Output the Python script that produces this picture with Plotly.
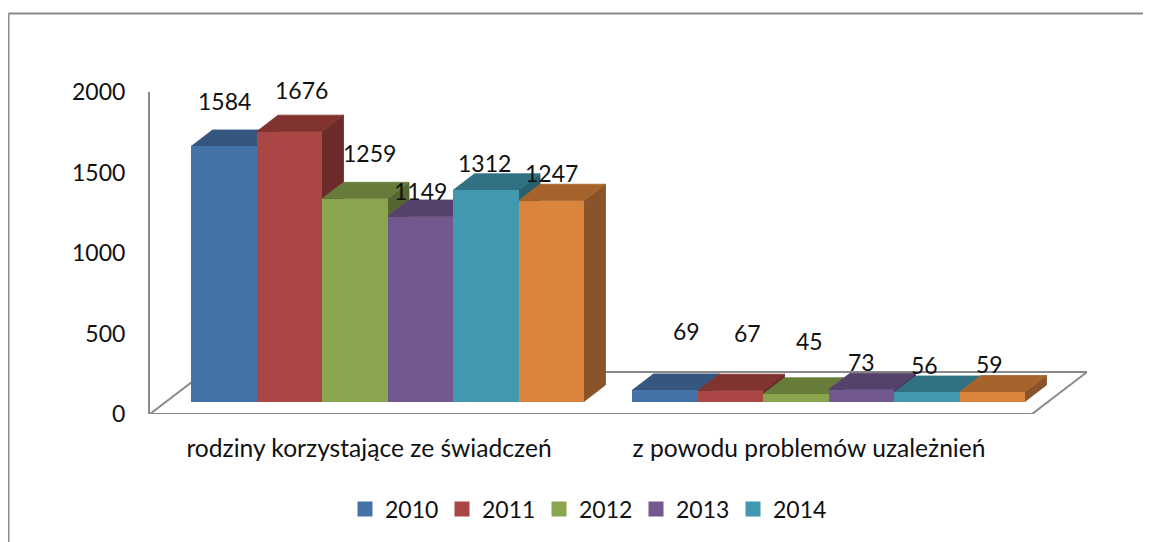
import plotly.graph_objects as go

# --- data ---
categories = ["rodziny korzystające ze świadczeń", "z powodu problemów uzależnień"]
years = ["2010", "2011", "2012", "2013", "2014", "2015"]
v2010 = [1584, 69]
v2011 = [1676, 67]
v2012 = [1259, 45]
v2013 = [1149, 73]
v2014 = [1312, 56]
v2015 = [1247, 59]
series = [v2010, v2011, v2012, v2013, v2014, v2015]
axis_ticks = [0, 500, 1000, 1500, 2000]

# --- style ---
front = ["#4573A7", "#AA4643", "#89A54E", "#71588F", "#4198AF", "#DB843D"]
top = ["#35567F", "#80332F", "#677C3A", "#55416C", "#307283", "#A6632C"]
side = ["#2A4466", "#6A2B2A", "#556633", "#46365A", "#29606E", "#89542A"]
FONT = "Lato"
GRAY = "#8A8A8A"
TXT = "#111111"
SIZE_NUM = 23
SIZE_CAT = 24.6

# --- geometry (page pixels; the page body has an 8px margin) ---
W, H = 1151, 542
OFF = 8
L, R, T, B = 150, 1087, 92, 414
PX_PER_SLOT = 65.5
PX_PER_UNIT = (B - T) / 2000
FIRST = 191
px2x = lambda p: (p - FIRST) / PX_PER_SLOT
dx_units = lambda p: p / PX_PER_SLOT
dy_units = lambda p: p / PX_PER_UNIT
GROUP_STEP = 441 / PX_PER_SLOT
BASE = dy_units(B - 401.5)
DEPTH_X, DEPTH_Y = dx_units(21.5), dy_units(16.5)
xrange = [px2x(L), px2x(R)]
group_start = [0, GROUP_STEP]
tick_x = [px2x(369), px2x(809)]

# label offsets (px) from the centre of each bar's top edge, by series then group
label_shift = [
    [(1, 45), (22, 59)],
    [(12, 42), (17, 58)],
    [(15, 46), (14, 53)],
    [(0, 26), (0, 28)],
    [(-1, 27), (-2, 27)],
    [(0, 28), (-3, 28)],
]

fig = go.Figure()


def faces(i, vals):
    tx, ty, sx, sy = [], [], [], []
    for g, v in enumerate(vals):
        x0 = group_start[g] + i
        x1 = x0 + 1
        y0 = BASE
        y1 = BASE + v
        tx += [x0, x1, x1 + DEPTH_X, x0 + DEPTH_X, x0, None]
        ty += [y1, y1, y1 + DEPTH_Y, y1 + DEPTH_Y, y1, None]
        sx += [x1, x1 + DEPTH_X, x1 + DEPTH_X, x1, x1, None]
        sy += [y0, y0 + DEPTH_Y, y1 + DEPTH_Y, y1, y0, None]
    return tx, ty, sx, sy


# floor outline
fl_dx, fl_dy = dx_units(55), dy_units(42)
fx0, fx1 = xrange[0], px2x(1032)
fig.add_trace(go.Scatter(
    x=[fx0, fx1, fx1 + fl_dx, fx0 + fl_dx, fx0],
    y=[0, 0, fl_dy, fl_dy, 0],
    mode="lines", line=dict(color=GRAY, width=2),
    cliponaxis=False, showlegend=False, hoverinfo="skip",
))

# top and side faces, painted left to right
for i, vals in enumerate(series):
    tx, ty, sx, sy = faces(i, vals)
    for xs, ys, col in ((sx, sy, side[i]), (tx, ty, top[i])):
        fig.add_trace(go.Scatter(
            x=xs, y=ys, mode="lines", fill="toself", fillcolor=col,
            line=dict(width=0.8, color=col), cliponaxis=False,
            showlegend=False, hoverinfo="skip",
        ))

# legend entries (the last series has no entry in the reference)
for i, name in enumerate(years[:5]):
    fig.add_trace(go.Scatter(
        x=[None], y=[None], mode="markers", name=name,
        marker=dict(symbol="square", size=15, color=front[i]),
    ))

# front faces on an overlay subplot so that they sit above all depth faces
for i, vals in enumerate(series):
    fig.add_trace(go.Bar(
        x=[g + i + 0.5 for g in group_start], y=vals, base=BASE, width=1,
        marker=dict(color=front[i], line=dict(width=0)),
        xaxis="x2", yaxis="y2", showlegend=False, name=years[i], cliponaxis=False,
    ))

for i, vals in enumerate(series):
    for g, v in enumerate(vals):
        sx_, sy_ = label_shift[i][g]
        fig.add_annotation(
            x=group_start[g] + i + 0.5, y=BASE + v, text=str(v), showarrow=False,
            xref="x", yref="y", xshift=sx_, yshift=sy_, yanchor="middle",
            font=dict(family=FONT, size=SIZE_NUM, color=TXT),
        )

fig.update_layout(
    width=W - OFF, height=H - OFF, autosize=False,
    margin=dict(l=L - OFF, r=W - R, t=T - OFF, b=H - B, pad=0),
    paper_bgcolor="white", plot_bgcolor="rgba(0,0,0,0)",
    barmode="overlay", bargap=0,
    font=dict(family=FONT, size=SIZE_NUM, color=TXT),
    xaxis=dict(range=xrange, tickmode="array", tickvals=tick_x, ticktext=categories,
               showgrid=False, zeroline=False, showline=False, ticks="",
               ticklabelstandoff=17, tickfont=dict(family=FONT, size=SIZE_CAT, color=TXT)),
    yaxis=dict(range=[0, 2000], tickmode="array", tickvals=axis_ticks,
               showgrid=False, zeroline=False, showline=True, linecolor=GRAY, linewidth=2,
               ticks="", ticklabelstandoff=18, tickfont=dict(family=FONT, size=SIZE_NUM, color=TXT)),
    xaxis2=dict(range=xrange, overlaying="x", visible=False),
    yaxis2=dict(range=[0, 2000], overlaying="y", visible=False),
    legend=dict(orientation="h", x=(345 - L) / (R - L), xanchor="left",
                y=(B - 509) / (B - T), yanchor="middle", bgcolor="rgba(0,0,0,0)",
                font=dict(family=FONT, size=SIZE_NUM, color=TXT), entrywidth=52,
                entrywidthmode="pixels", itemclick=False, itemdoubleclick=False),
    shapes=[
        dict(type="line", xref="paper", yref="paper",
             x0=(8.5 - L) / (R - L), x1=(W - L) / (R - L),
             y0=(B - 13.5) / (B - T), y1=(B - 13.5) / (B - T),
             line=dict(color=GRAY, width=2)),
        dict(type="line", xref="paper", yref="paper",
             x0=(8.5 - L) / (R - L), x1=(8.5 - L) / (R - L),
             y0=(B - 13.5) / (B - T), y1=(B - H) / (B - T),
             line=dict(color=GRAY, width=2)),
    ],
)

fig.write_html("out.html")
